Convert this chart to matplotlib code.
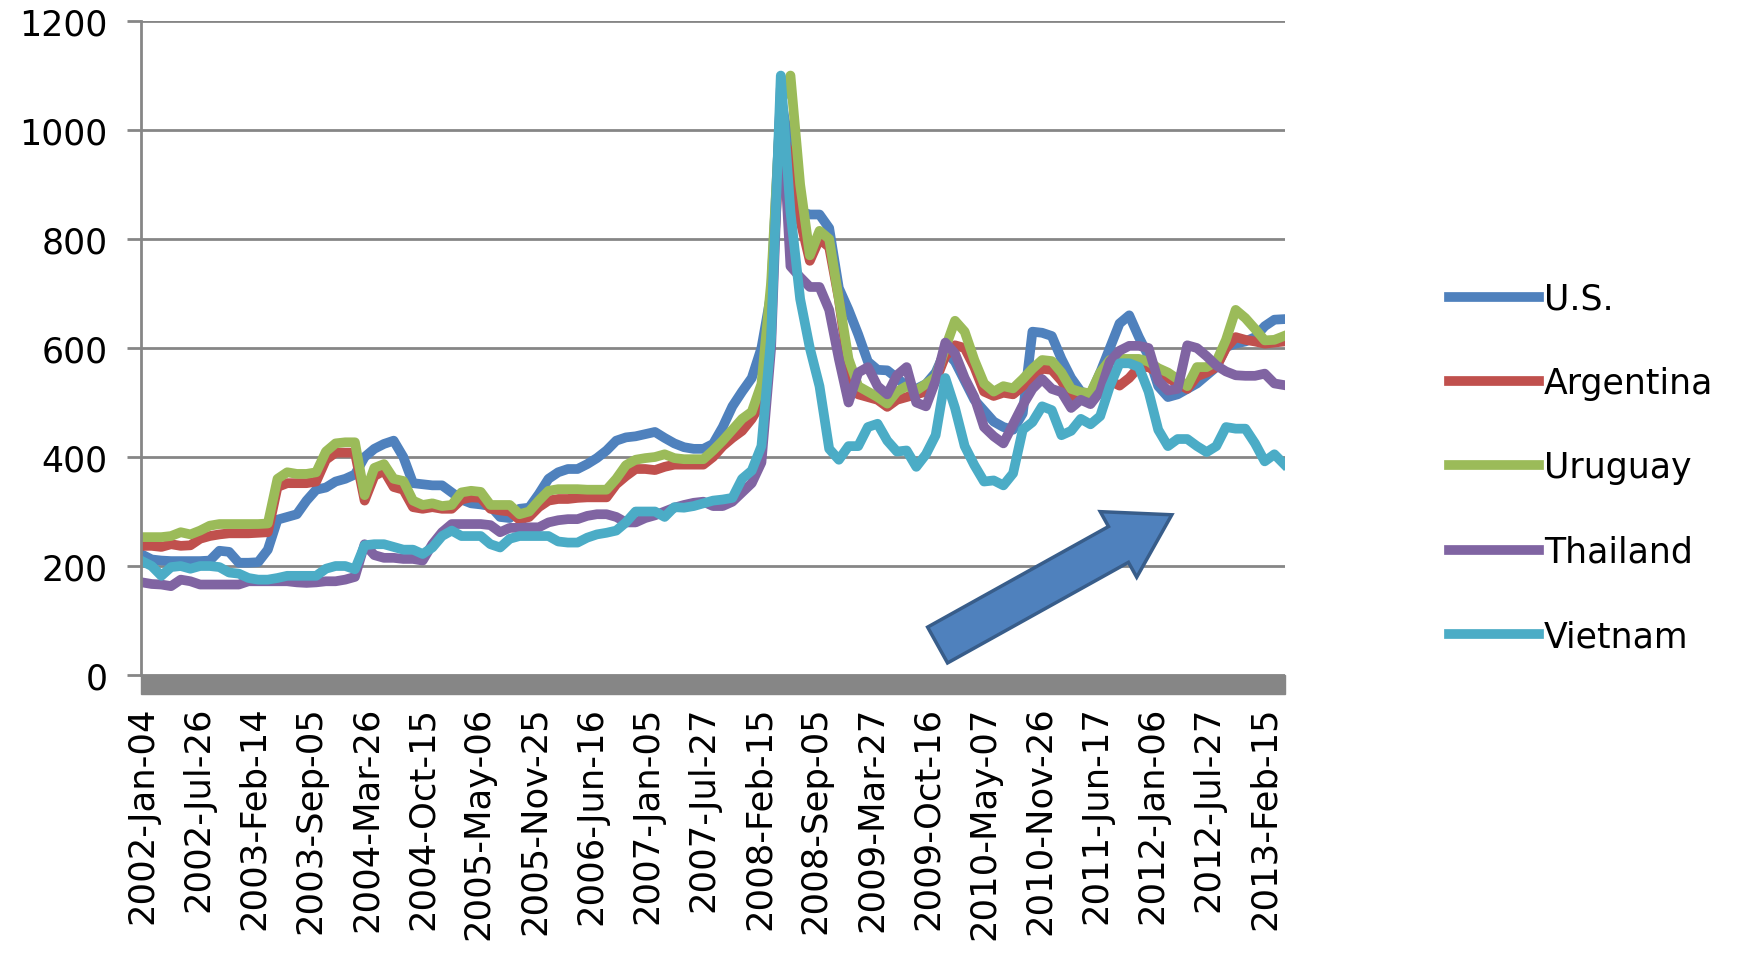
import numpy as np
import matplotlib
matplotlib.use("Agg")
import matplotlib.pyplot as plt
from matplotlib.patches import Rectangle, FancyArrow
from matplotlib.transforms import IdentityTransform

plt.rcParams["font.family"] = "DejaVu Sans"

weeks = np.arange(0, 591, 5)

tick_weeks = np.arange(0, 581, 29)
tick_labels = ["2002-Jan-04", "2002-Jul-26", "2003-Feb-14", "2003-Sep-05",
               "2004-Mar-26", "2004-Oct-15", "2005-May-06", "2005-Nov-25",
               "2006-Jun-16", "2007-Jan-05", "2007-Jul-27", "2008-Feb-15",
               "2008-Sep-05", "2009-Mar-27", "2009-Oct-16", "2010-May-07",
               "2010-Nov-26", "2011-Jun-17", "2012-Jan-06", "2012-Jul-27",
               "2013-Feb-15"]

us = [221, 212, 210, 209, 209, 209, 209, 210, 228, 226, 206, 206, 207, 230, 285, 290,
      295, 320, 340, 344, 355, 360, 368, 400, 415, 424, 430, 400, 352, 350, 348, 348,
      335, 322, 315, 313, 310, 290, 288, 305, 307, 332, 360, 372, 378, 378,
      387, 398, 412, 430, 436, 438, 442, 446, 435, 425, 418, 415, 415, 424, 455, 493,
      520, 545, 600, 700, 1060, 960, 850, 845, 845, 820, 710, 670, 625, 575, 560, 559,
      545, 530, 525, 534, 555, 595, 575,
      540, 505, 485, 465, 455, 450, 480, 630, 628, 622, 580, 545, 520, 515, 555, 600,
      645, 660, 620, 585, 530, 510, 515, 525, 535, 550, 565, 602, 608, 612, 620, 640,
      652, 653]
argentina = [237, 237, 235, 240, 237, 238, 250, 255, 258, 260, 260, 260, 261, 262, 345, 352,
             352, 352, 355, 395, 408, 408, 408, 320, 365, 375, 345, 340, 308, 305, 308, 305,
             305, 322, 326, 325, 305, 302, 300, 285, 290, 308, 320, 323, 323, 325,
             326, 326, 326, 350, 365, 378, 378, 376, 382, 386, 386, 386, 386, 400, 420, 435,
             448, 470, 500, 690, 1000, 950, 835, 760, 800, 785, 690, 560, 515, 510, 505, 492,
             505, 510, 515, 520, 540, 585, 605,
             600, 565, 520, 512, 518, 515, 530, 545, 562, 560, 540, 510, 505, 505, 530, 540,
             531, 545, 565, 565, 555, 545, 535, 525, 548, 555, 565, 600, 620, 615, 612, 608,
             610, 612]
uruguay = [253, 253, 253, 255, 262, 258, 265, 274, 277, 277, 277, 277, 277, 278, 360, 372,
           369, 369, 372, 410, 425, 427, 427, 330, 380, 387, 360, 356, 320, 312, 315, 310,
           312, 335, 338, 336, 312, 312, 312, 295, 300, 320, 338, 341, 341, 341,
           340, 340, 340, 360, 385, 395, 398, 400, 405, 398, 396, 396, 396, 412, 430, 450,
           470, 483, 534, 720, 1050, 1100, 900, 770, 815, 800, 690, 580, 530, 520, 510, 498,
           520, 530, 522, 534, 547, 600, 650,
           630, 578, 535, 520, 530, 526, 543, 562, 578, 576, 555, 525, 519, 517, 555, 578,
           580, 580, 580, 575, 563, 555, 543, 530, 565, 565, 575, 615, 670, 655, 635, 614,
           615, 622]
thailand = [170, 167, 166, 163, 175, 172, 166, 166, 166, 166, 166, 172, 172, 172, 172, 172,
            170, 169, 170, 172, 172, 175, 180, 240, 220, 215, 215, 213, 213, 210, 240, 262,
            277, 277, 277, 277, 275, 262, 270, 270, 271, 271, 280, 284, 286, 286,
            292, 295, 295, 290, 280, 280, 288, 293, 300, 307, 312, 316, 318, 310, 310, 318,
            335, 352, 390, 600, 1077, 750, 730, 712, 712, 670, 580, 500, 555, 565, 530, 515,
            550, 565, 500, 493, 540, 610, 590,
            545, 510, 455, 438, 425, 460, 495, 525, 543, 525, 519, 490, 505, 497, 520, 575,
            595, 604, 604, 600, 540, 522, 525, 605, 600, 585, 568, 557, 550, 549, 549, 553,
            535, 532]
vietnam = [209, 200, 182, 198, 200, 195, 200, 200, 198, 188, 186, 178, 175, 175, 178, 182,
           182, 182, 182, 195, 200, 200, 194, 238, 240, 240, 235, 230, 230, 222, 234, 255,
           265, 255, 255, 255, 240, 234, 250, 255, 255, 255, 255, 245, 243, 243,
           252, 258, 261, 265, 280, 300, 300, 300, 290, 308, 307, 310, 315, 320, 322, 325,
           360, 375, 420, 620, 1100, 850, 690, 600, 530, 415, 395, 420, 420, 455, 461, 430,
           410, 412, 382, 405, 440, 545, 490,
           420, 385, 355, 357, 348, 370, 450, 464, 493, 486, 440, 448, 470, 460, 475, 530,
           572, 572, 565, 520, 450, 420, 433, 433, 420, 409, 420, 455, 452, 452, 425, 392,
           405, 387]

names = ["U.S.", "Argentina", "Uruguay", "Thailand", "Vietnam"]
colors = ["#4F81BD", "#C0504D", "#9BBB59", "#8064A2", "#4BACC6"]
gray = "#868686"

fig = plt.figure(figsize=(17.37, 9.54), dpi=100)
ax = fig.add_axes([0.0812, 0.2914, 0.6586, 0.6855])

for name, vals, col in zip(names, [us, argentina, uruguay, thailand, vietnam], colors):
    ax.plot(weeks, vals, color=col, lw=7, label=name)

ax.set_xlim(-0.5, 590.5)
ax.set_ylim(0, 1200)
ax.set_yticks(range(0, 1201, 200))
ax.set_xticks(tick_weeks, tick_labels, rotation=90)
ax.yaxis.grid(True, color=gray, lw=2)
ax.set_axisbelow(True)
for s in ["top", "right", "bottom"]:
    ax.spines[s].set_visible(False)
ax.spines["left"].set_color(gray)
ax.spines["left"].set_linewidth(2)
ax.tick_params(axis="y", length=10, width=2, color=gray, pad=14, labelsize=25)
ax.tick_params(axis="x", length=0, pad=22, labelsize=25.5)

# thick grey floor under the category axis
ax.add_patch(Rectangle((0, -0.029), 1, 0.029, transform=ax.transAxes,
                       color=gray, clip_on=False, zorder=3))

fig.legend(loc="center left", bbox_to_anchor=(0.834, 0.509), frameon=False,
           fontsize=25, handlelength=2.6, handletextpad=0.15, labelspacing=1.45,
           borderpad=0, borderaxespad=0)

# block arrow pointing up-right
fig.canvas.draw()
x0, y0 = ax.transData.transform((411, 55))
x1, y1 = ax.transData.transform((532, 294))
arrow = FancyArrow(x0, y0, x1 - x0, y1 - y0, width=41, head_width=75, head_length=61,
                   length_includes_head=True, transform=IdentityTransform(),
                   fc="#4F81BD", ec="#385D8A", lw=2.5, zorder=5)
fig.add_artist(arrow)

fig.savefig("out.png", dpi=100)
